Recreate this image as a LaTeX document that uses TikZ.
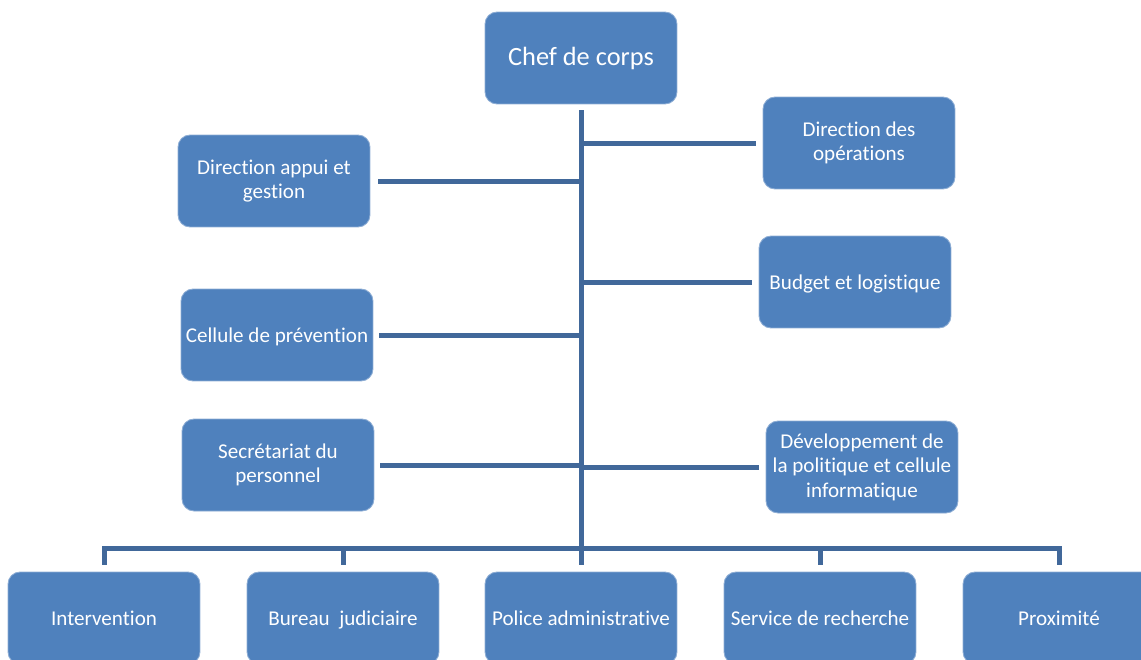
\documentclass[tikz,border=0pt]{standalone}
\usepackage{fontspec}
\setmainfont{Carlito}[Ligatures=NoCommon]
\usepackage{tikz}
\usetikzlibrary{positioning, calc}
\definecolor{boxblue}{HTML}{4F81BD}
\definecolor{linkblue}{HTML}{41689A}
\tikzstyle{unit} = [rectangle, rounded corners=0.24cm, fill=boxblue, draw=white!35!boxblue, line width=0.5pt,
  text=white, font=\fontsize{12}{14}\selectfont, align=center,
  minimum width=3.84cm, minimum height=1.84cm, inner sep=1pt]
\tikzstyle{oneline} = [text height=2ex, text depth=0.3ex]
\tikzstyle{link} = [draw=linkblue, line width=0.1cm]

\begin{document}
\begin{tikzpicture}[x=0.02cm, y=-0.02cm]
    \useasboundingbox (0, 0) rectangle (1141, 659);
    \begin{scope}
    \clip (0, 0) rectangle (1141, 659);
    % top
    \node[unit, oneline, font=\fontsize{15}{18}\selectfont] (chef) at (581, 58) {Chef de corps};
    % left side
    \node[unit] (dag) at (274, 181) {Direction appui et\\gestion};
    \node[unit, oneline] (prev) at (277, 335) {Cellule de prévention};
    \node[unit] (secr) at (278, 465) {Secrétariat du\\personnel};
    % right side
    \node[unit] (dops) at (859, 143) {Direction des\\opérations};
    \node[unit, oneline] (budg) at (855, 282) {Budget et logistique};
    \node[unit] (devp) at (862, 467) {Développement de\\la politique et cellule\\informatique};
    % bottom row
    \node[unit, oneline] (intv) at (104, 618) {Intervention};
    \node[unit, oneline] (bjud) at (343, 618) {Bureau~ judiciaire};
    \node[unit, oneline] (padm) at (581, 618) {Police administrative};
    \node[unit, oneline] (srec) at (820, 618) {Service de recherche};
    \node[unit, oneline] (prox) at (1059, 618) {Proximité};
    \end{scope}
    \coordinate (bus) at (581, 548);
    % trunk
    \draw[link, shorten <=0.12cm] (chef.south) -- (bus);
    % branches
    \draw[link, shorten <=0.16cm] (dag.east) -- (dag.east -| bus);
    \draw[link, shorten <=0.12cm] (prev.east) -- (prev.east -| bus);
    \draw[link, shorten <=0.12cm] (secr.east) -- (secr.east -| bus);
    \draw[link, shorten <=0.14cm] (dops.west) -- (dops.west -| bus);
    \draw[link, shorten <=0.14cm] (budg.west) -- (budg.west -| bus);
    \draw[link, shorten <=0.14cm] (devp.west) -- (devp.west -| bus);
    % bus to bottom row
    \draw[link, line cap=rect] (bus -| intv.north) -- (bus -| prox.north);
    \foreach \n in {intv, bjud, padm, srec, prox}
        \draw[link, shorten >=0.14cm] (bus -| \n.north) -- (\n.north);
\end{tikzpicture}
\end{document}
